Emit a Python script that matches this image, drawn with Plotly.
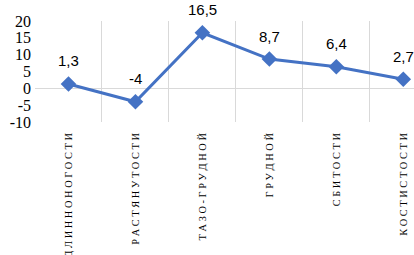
import plotly.graph_objects as go

categories = ["ДЛИННОНОГОСТИ", "РАСТЯНУТОСТИ", "ТАЗО-ГРУДНОЙ", "ГРУДНОЙ", "СБИТОСТИ", "КОСТИСТОСТИ"]
values = [1.3, -4, 16.5, 8.7, 6.4, 2.7]
value_labels = ["1,3", "-4", "16,5", "8,7", "6,4", "2,7"]
y_ticks = [-10, -5, 0, 5, 10, 15, 20]

def spaced(s):
    return " ".join(list(s))

tick_text = [spaced(c) for c in categories]

fig = go.Figure()
fig.add_trace(go.Scatter(
    x=categories, y=values, mode="lines+markers",
    line=dict(color="#4472C4", width=3),
    marker=dict(symbol="diamond", size=12, color="#4472C4"),
    cliponaxis=False, hoverinfo="skip",
))
for c, v, t in zip(categories, values, value_labels):
    fig.add_annotation(x=c, y=v, text=t, showarrow=False, yshift=23,
                       font=dict(family="Liberation Sans, Arial, sans-serif", size=15, color="#000000"))

fig.update_layout(
    template="none",
    width=414, height=255,
    margin=dict(l=35, r=0, t=21, b=133, autoexpand=False),
    paper_bgcolor="white", plot_bgcolor="white",
    showlegend=False,
)
fig.update_xaxes(
    type="category", range=[-0.5, 5.16], automargin=False,
    tickson="boundaries", ticks="",
    showgrid=True, gridcolor="#d9d9d9", gridwidth=1,
    tickangle=-90, tickvals=categories, ticktext=tick_text,
    tickfont=dict(family="Liberation Serif, Times New Roman, serif", size=10.4, color="#000000"),
    ticklabelstandoff=8,
    showline=False, zeroline=False,
)
fig.update_yaxes(
    range=[-10, 20], tickvals=y_ticks, ticktext=[str(v) for v in y_ticks], automargin=False,
    showgrid=False, zeroline=True, zerolinecolor="#d9d9d9", zerolinewidth=1,
    tickfont=dict(family="Liberation Serif, Times New Roman, serif", size=16, color="#000000"),
    ticks="", ticklabelstandoff=3, showline=False,
)
fig.write_html("out.html", config={"displayModeBar": False},
               post_script="document.body.style.margin='0';")
